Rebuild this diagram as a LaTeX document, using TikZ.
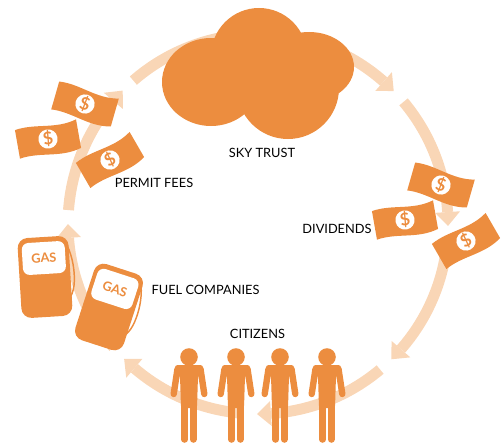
\documentclass[tikz,border=0pt]{standalone}
\usepackage{fontspec}
\setmainfont{Lato}
\definecolor{org}{HTML}{EC8D3F}
\definecolor{band}{HTML}{F9D6B6}
\tikzset{
  x=.75pt,y=.75pt,
  lab/.style={font=\fontsize{9.6}{11}\selectfont,text=black,inner sep=0pt},
  billsign/.style={font=\fontsize{13}{13}\selectfont\bfseries,text=org,inner sep=0pt,transform shape},
  gastext/.style={font=\fontsize{9.6}{10}\selectfont\bfseries,text=org,inner sep=0pt,transform shape},
  bandline/.style={draw=band,line width=8.2pt,line cap=butt},
  bandhead/.style={fill=band,draw=none},
}
% clockwise flow arc around the ring: #1 name, #2 start angle, #3 tip angle
\newcommand\flowarc[3]{%
  \pgfmathsetmacro\endang{#3+4.2}
  \coordinate (#1s) at ($(258,220)+(#2:190)$);
  \coordinate (#1t) at ($(258,220)+(#3:190)$);
  \coordinate (#1a) at ($(258,220)+(\endang:202.5)$);
  \coordinate (#1b) at ($(258,220)+(\endang:177.5)$);
  \draw[bandline] (#1s) arc[start angle=#2,end angle=\endang,radius=190];
  \fill[bandhead] (#1a) -- (#1t) -- (#1b) -- cycle;
}
% bank note: #1 name, #2 x, #3 y (from the top), #4 rotation
\newcommand\banknote[4]{%
  \begin{scope}[shift={(#2,444-#3)},rotate=#4]
    \fill[org] (-31,14.5) .. controls (-10,18) and (9,8) .. (31,14.5)
      -- (31,-14.5) .. controls (9,-21) and (-10,-11) .. (-31,-14.5) -- cycle;
    \fill[white] (0,0) circle[radius=9.6];
    \node[billsign] (#1) at (0,0) {\$};
  \end{scope}}
% pump: #1 name, #2 x, #3 y (from the top), #4 rotation
\newcommand\pump[4]{%
  \begin{scope}[shift={(#2,444-#3)},rotate=#4]
    \draw[org,line width=1.1pt] (24,30) .. controls (29,18) and (30,4) .. (29,-6) .. controls (28.5,-12) and (27,-17) .. (24,-22);
    \fill[org,rounded corners=7.5pt] (-25.5,-40) rectangle (25.5,40);
    \fill[white,rounded corners=5pt] (-21.5,3) rectangle (21.5,35);
    \node[gastext] (#1) at (0,19) {GAS};
  \end{scope}}
% person: #1 x of the centre line
\newcommand\person[1]{%
  \begin{scope}[shift={(#1,0)}]
    \fill[org] (0,87) circle[radius=8.8];
    \fill[org,rounded corners=2pt] (-14,79) -- (14,79) -- (14,72) -- (9,68) -- (8,36) -- (-8,36) -- (-9,68) -- (-14,72) -- cycle;
    \draw[org,line width=4.8pt,line cap=round] (11.5,75) -- (15.3,50);
    \draw[org,line width=4.8pt,line cap=round] (-11.5,75) -- (-15.3,50);
    \draw[org,line width=4.9pt,line cap=round] (4.3,40) -- (4.3,4.5);
    \draw[org,line width=4.9pt,line cap=round] (-4.3,40) -- (-4.3,4.5);
  \end{scope}}
\usetikzlibrary{calc}
\begin{document}
\begin{tikzpicture}
\useasboundingbox (0,0) rectangle (504,444);
% ring
\flowarc{p}{175.8}{135.4}
\flowarc{q}{131}{44.4}
\flowarc{r}{40}{-0.6}
\flowarc{u}{-4}{-45.4}
\flowarc{v}{-50}{-90.3}
\flowarc{w}{-95}{-134.8}
\flowarc{z}{-139.5}{-180}
% cloud
\fill[org] (211,362) ellipse[x radius=49,y radius=44];
\fill[org] (259,388) circle[radius=48];
\fill[org] (309,377) ellipse[x radius=45,y radius=35];
\fill[org] (288,356) circle[radius=51];
% bank notes
\banknote{n1}{85}{104}{-16}
\banknote{n2}{48}{139}{10}
\banknote{n3}{110}{160}{30}
\banknote{n4}{441}{185}{-16}
\banknote{n5}{405}{220}{10}
\banknote{n6}{466}{241}{30}
% pumps
\pump{g1}{45}{277}{3.5}
\pump{g2}{109}{307}{-18}
% people
\person{189}
\person{236}
\person{280}
\person{327}
% labels
\node[lab] (sky) at (262,291) {SKY TRUST};
\node[lab] (fees) at (154,261) {PERMIT FEES};
\node[lab] (div) at (337,215) {DIVIDENDS};
\node[lab] (fuel) at (205.5,154) {FUEL COMPANIES};
\node[lab] (cit) at (257.5,110) {CITIZENS};
\end{tikzpicture}
\end{document}
